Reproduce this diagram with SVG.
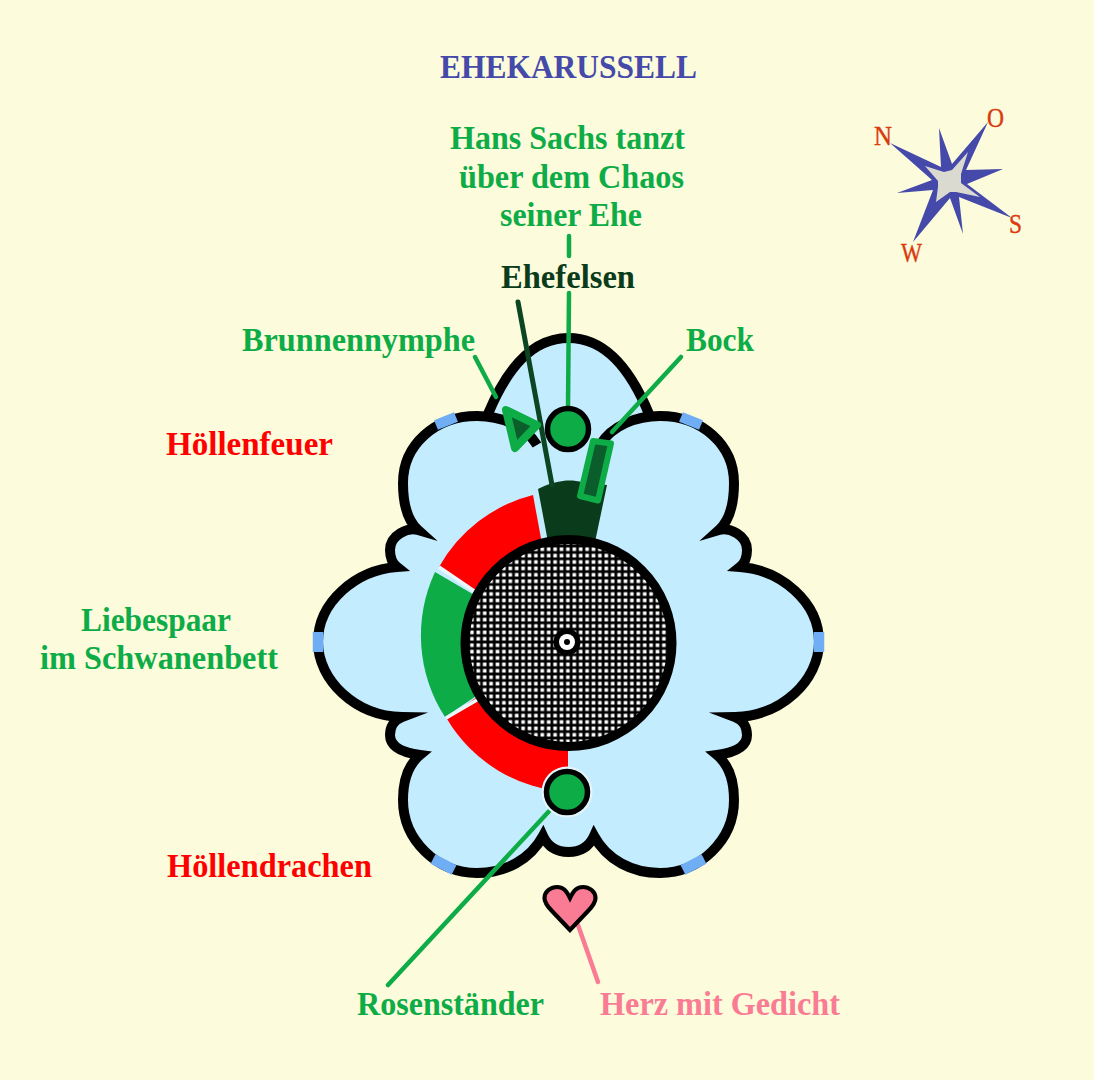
<svg xmlns="http://www.w3.org/2000/svg" width="1094" height="1080" viewBox="0 0 1094 1080">
<style>
text{font-family:"Liberation Serif","Times New Roman",serif;font-weight:700;font-size:33px;text-anchor:start}
.g{fill:#0DAC47}.r{fill:#FF0000}.d{fill:#0A3C1C}.p{fill:#F97B94}
.o{font-size:27px;font-weight:400;fill:#D93A0E;stroke:#D93A0E;stroke-width:.4}
.out{fill:#C4ECFF;stroke:#000;stroke-width:10;stroke-miterlimit:10}
.blue{fill:none;stroke:#6FAEF5;stroke-width:10.5}
.sep{fill:none;stroke:#EAF7FA;stroke-width:3.5}
.line{fill:none;stroke:#0DAC47;stroke-width:4.5;stroke-linecap:round}
.post{fill:#0DAC47;stroke:#000;stroke-width:5.5}
</style>
<defs>
<pattern id="hatch" width="6.4" height="6.4" patternUnits="userSpaceOnUse" x="1.5" y="2">
<rect width="6.4" height="6.4" fill="#000"/><rect x="1.4" y="1.4" width="3.6" height="3.6" fill="#fff"/>
</pattern>
</defs>
<rect width="1094" height="1080" fill="#FCFBDB"/>
<g id="carousel">
<path d="M488,414C507,368 532,338 568.5,338C605,338 630,368 649,414L600,460H537Z" fill="#C4ECFF"/>
<path d="M488,414C507,368 532,338 568.5,338C605,338 630,368 649,414" fill="none" stroke="#000" stroke-width="10"/>
<path class="out" d="M537,445C525,425 500,416 477,416C435,416 403,445 403,483C403,505 407,520 418,530C408,527 390,535 390,550C390,557 392,563 397,567C356,570 318,602 318,642C318,680 355,716 402,717C394,720 390,727 390,735C390,745 398,752 420,755C408,765 403,780 403,800C403,840 437,873 477,873C505,873 530,860 543,836C548,847 557,852 568.5,852C580,852 589,847 594,836C607,860 632,873 660,873C700,873 734,840 734,800C734,780 729,765 717,755C739,752 747,745 747,735C747,727 743,720 735,717C782,716 819,680 819,642C819,602 781,570 740,567C745,563 747,557 747,550C747,535 729,527 719,530C730,520 734,505 734,483C734,445 702,416 660,416C637,416 612,425 600,445"/>
<path class="blue" d="M436,425L456,417"/><path class="blue" d="M701,425L681,417"/>
<path class="blue" d="M318,632V652"/><path class="blue" d="M819,632V652"/>
<path class="blue" d="M433,859L454,870"/><path class="blue" d="M704,859L683,870"/>
</g>
<g id="hoellenfeuer-ring">
<path class="r" d="M533,495A150,150 0 0 0 439,567L500,610L545,560Z"/>
<path class="sep" d="M439,567L480,595"/>
</g>
<g id="liebespaar-ring">
<path class="g" d="M435,572A150,150 0 0 0 445,717L500,680L500,610Z"/>
</g>
<g id="hoellendrachen-ring">
<path class="r" d="M447,719A150,150 0 0 0 568,792L568,700L500,680Z"/>
<path class="sep" d="M446,718L482,697"/>
</g>
<g id="ehefelsen">
<path class="d" d="M538,489C548,484 555,482 563,481C570,480 577,481 582,482L607,485L595,542H548Z"/>
</g>
<g id="center">
<circle cx="568.5" cy="643" r="103.5" fill="url(#hatch)" stroke="#000" stroke-width="9"/>
<circle cx="567" cy="642" r="13.5" fill="#000"/>
<circle cx="567" cy="642" r="8" fill="#fff"/>
<circle cx="567" cy="642" r="3" fill="#000"/>
</g>
<g id="connectors">
<path class="line" d="M569,236V256"/>
<path class="line" d="M569,293L568,408"/>
<path class="line" d="M475,357L496,397"/>
<path class="line" d="M681,357L612,432"/>
<path class="line" d="M552,808L388,985"/>
<path d="M578,925L598,982" fill="none" stroke="#F97B94" stroke-width="4.5" stroke-linecap="round"/>
<path d="M518,302L552,485" fill="none" stroke="#0B4522" stroke-width="5" stroke-linecap="round"/>
</g>
<g id="hans-sachs"><circle class="post" cx="568" cy="429" r="20.5"/></g>
<g id="rosenstaender">
<circle cx="567" cy="792" r="25.5" fill="#E4F6FC"/>
<circle class="post" cx="567" cy="792" r="20.5"/></g>
<g id="brunnennymphe">
<path d="M506,410L537,425L515,448Z" fill="#0B5E2C" stroke="#0DAC47" stroke-width="8" stroke-linejoin="round"/>
</g>
<g id="bock">
<path d="M593,441L611,443.5L598,500.5L580,496Z" fill="#0B5E2C" stroke="#0DAC47" stroke-width="6" stroke-linejoin="round"/>
</g>
<g id="herz">
<path d="M570,930L552,911C546,905 544.5,902 544.5,898C544.5,892 550,887 557,887C563,887 566,890 570,898C574,890 577,887 583,887C590,887 595.5,892 595.5,898C595.5,902 594,905 588,911Z" fill="#F97B94" stroke="#000" stroke-width="4.2" stroke-miterlimit="10"/>
</g>
<g id="kompass">
<path d="M890,143L941,167L939,128L952,164L988,122L966,170L1003,169L967,184L1012,218L959,197L963,234L950,198L913,242L933,190L897,193L932,180Z" fill="#4549A9"/>
<path d="M925,166L944,172L952,170L968,152L961,174L961,183L980,197L956,192L950,192L936,202L938,187L938,181Z" fill="#DADAD0"/>
<text class="o" x="874" y="145" textLength="18" lengthAdjust="spacingAndGlyphs">N</text>
<text class="o" x="987" y="127" textLength="17" lengthAdjust="spacingAndGlyphs">O</text>
<text class="o" x="1009" y="233" textLength="13" lengthAdjust="spacingAndGlyphs">S</text>
<text class="o" x="901" y="262" textLength="21" lengthAdjust="spacingAndGlyphs">W</text>
</g>
<g id="labels">
<text x="440" y="78" textLength="257" lengthAdjust="spacingAndGlyphs" style="fill:#4549A9">EHEKARUSSELL</text>
<text class="g" x="450" y="149" textLength="235" lengthAdjust="spacingAndGlyphs">Hans Sachs tanzt</text>
<text class="g" x="459" y="188" textLength="225" lengthAdjust="spacingAndGlyphs">über dem Chaos</text>
<text class="g" x="500" y="226" textLength="142" lengthAdjust="spacingAndGlyphs">seiner Ehe</text>
<text class="d" x="501" y="288" textLength="134" lengthAdjust="spacingAndGlyphs">Ehefelsen</text>
<text class="g" x="242" y="351" textLength="233" lengthAdjust="spacingAndGlyphs">Brunnennymphe</text>
<text class="g" x="686" y="351" textLength="68" lengthAdjust="spacingAndGlyphs">Bock</text>
<text class="r" x="166" y="455" textLength="167" lengthAdjust="spacingAndGlyphs">Höllenfeuer</text>
<text class="g" x="81" y="631" textLength="150" lengthAdjust="spacingAndGlyphs">Liebespaar</text>
<text class="g" x="40" y="669" textLength="238" lengthAdjust="spacingAndGlyphs">im Schwanenbett</text>
<text class="r" x="167" y="877" textLength="205" lengthAdjust="spacingAndGlyphs">Höllendrachen</text>
<text class="g" x="357" y="1015" textLength="187" lengthAdjust="spacingAndGlyphs">Rosenständer</text>
<text class="p" x="600" y="1015" textLength="240" lengthAdjust="spacingAndGlyphs">Herz mit Gedicht</text>
</g>
</svg>
